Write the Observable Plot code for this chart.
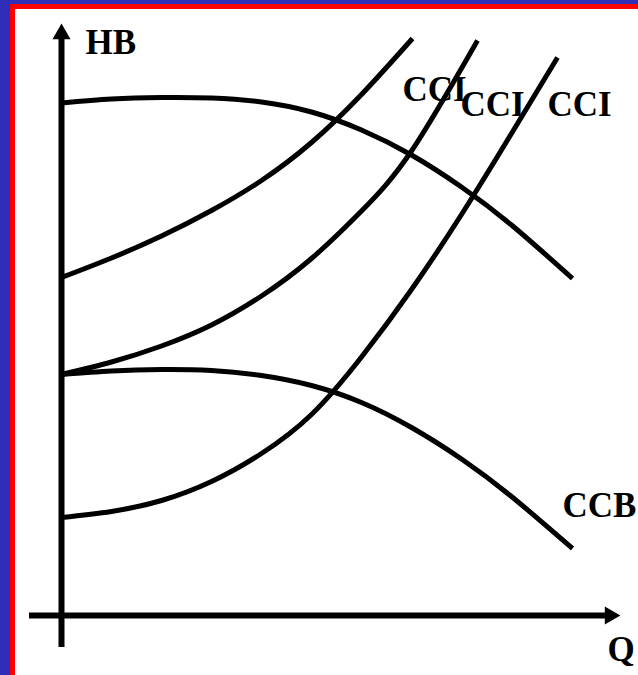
<!DOCTYPE html>
<html>
<head>
<meta charset="utf-8">
<script src="https://cdn.jsdelivr.net/npm/d3@7"></script>
<script src="https://cdn.jsdelivr.net/npm/@observablehq/plot@0.6"></script>
<style>
  html, body { margin: 0; padding: 0; background: #fff; }
  #wrap { position: relative; width: 638px; height: 675px; overflow: hidden; background: #fff; }
  #chart svg { display: block; }
  .b { position: absolute; }
</style>
</head>
<body>
<div id="wrap">
  <div id="chart"></div>
  <div class="b" style="left:0;top:0;width:638px;height:4px;background:#2e2eb8"></div>
  <div class="b" style="left:0;top:0;width:10px;height:675px;background:#2e2eb8"></div>
  <div class="b" style="left:10px;top:4px;width:628px;height:5px;background:#ff0000"></div>
  <div class="b" style="left:10px;top:4px;width:5px;height:671px;background:#ff0000"></div>
</div>
<script>
// Pump curve (upper)
const pumpQ = [0, 10, 20, 30, 40, 50, 60, 70, 80, 90, 102.2];
const pumpH = [102.5, 103.3, 103.6, 103.5, 102.7, 100.7, 97.1, 92.1, 85.7, 78.1, 67.4];
// Pump curve CCB (lower)
const ccbQ = [0, 10, 20, 30, 40, 50, 60, 70, 80, 90, 102.2];
const ccbH = [48.2, 48.9, 49.2, 49, 48, 46, 42.6, 37.6, 31.3, 23.8, 13.4];
// System curves CCI
const cci1Q = [0, 10, 20, 30, 40, 50, 60, 70.2];
const cci1H = [67.6, 71.5, 75.9, 81, 87, 94.6, 104.2, 115.4];
const cci2Q = [0, 10, 20, 30, 40, 50, 60, 70, 83.2];
const cci2H = [48.2, 50.7, 53.9, 58.1, 63.9, 71.4, 80.9, 92.9, 115];
const cci3Q = [0, 10, 20, 30, 40, 50, 60, 70, 80, 90, 99.2];
const cci3H = [19.6, 20.8, 23, 26.8, 32.4, 40.2, 51.7, 65.2, 80.2, 96.4, 111.6];

// Axes extents (data units)
const axisQ = [-6.4, 110];
const axisH = [-6.4, 116];

// Labels
const labelText = ["HB", "CCI", "CCI", "CCI", "CCB", "Q"];
const labelQ = [4.8, 68.2, 79.8, 97.2, 100.2, 109.2];
const labelH = [112.4, 103, 100, 100, 19.8, -9];

const toRows = (name, qs, hs) => qs.map((q, i) => ({name, q, h: hs[i]}));
const curves = [
  ...toRows("pump", pumpQ, pumpH),
  ...toRows("ccb", ccbQ, ccbH),
  ...toRows("cci1", cci1Q, cci1H),
  ...toRows("cci2", cci2Q, cci2H),
  ...toRows("cci3", cci3Q, cci3H)
];
const labels = labelText.map((t, i) => ({t, q: labelQ[i], h: labelH[i]}));

const chart = Plot.plot({
  width: 638,
  height: 675,
  marginLeft: 61,
  marginRight: 77,
  marginTop: 115,
  marginBottom: 60,
  x: {domain: [0, 100], axis: null},
  y: {domain: [0, 100], axis: null},
  style: {background: "#fff", overflow: "visible"},
  marks: [
    Plot.text(labels, {
      x: "q", y: "h", text: "t",
      textAnchor: "start", lineAnchor: "bottom",
      fontFamily: "Liberation Serif, Times New Roman, serif",
      fontWeight: "bold", fontSize: 35, fill: "#000"
    }),
    Plot.ruleX([0], {y1: axisH[0], y2: axisH[1], stroke: "#000", strokeWidth: 6}),
    Plot.ruleY([0], {x1: axisQ[0], x2: axisQ[1], stroke: "#000", strokeWidth: 6}),
    Plot.dot([{q: 0, h: axisH[1] + 0.3}], {x: "q", y: "h", symbol: "triangle", r: 6.7, fill: "#000", stroke: null}),
    Plot.dot([{q: axisQ[1] - 0.3, h: 0}], {x: "q", y: "h", symbol: "triangle", r: 6.7, rotate: 90, fill: "#000", stroke: null}),
    Plot.line(curves, {
      x: "q", y: "h", z: "name",
      curve: "natural",
      stroke: "#000", strokeWidth: 5, strokeLinecap: "butt", strokeLinejoin: "round"
    })
  ]
});
document.getElementById("chart").appendChild(chart);
</script>
</body>
</html>
